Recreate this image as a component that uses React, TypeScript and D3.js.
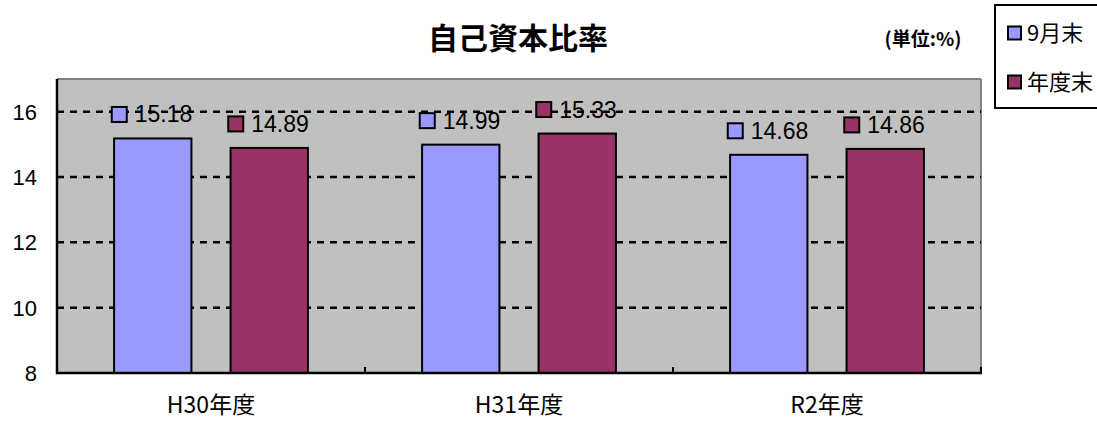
import React from "react";
import * as d3 from "d3";

const categories = ["H30年度", "H31年度", "R2年度"];
const seriesNames = ["9月末", "年度末"];
const septValues = [15.18, 14.99, 14.68];
const yearEndValues = [14.89, 15.33, 14.86];
const yTicks = [8, 10, 12, 14, 16];
const colors = ["#9999ff", "#993366"];

const W = 1097;
const H = 421;
const plot = { left: 57, right: 981, top: 79, bottom: 373 };
const FONT = "'Liberation Sans', Arial, 'Noto Sans CJK JP', sans-serif";
const CJK = "'Noto Sans CJK JP', 'Liberation Sans', sans-serif";

export default function App() {
  const x = d3.scaleBand<string>().domain(categories).range([plot.left, plot.right]).padding(0);
  const xs = d3
    .scaleBand<string>()
    .domain(seriesNames)
    .range([0, x.bandwidth()])
    .paddingInner(0.336)
    .paddingOuter(0.49);
  const y = d3.scaleLinear().domain([8, 17]).range([plot.bottom, plot.top]);
  const series = [septValues, yearEndValues];

  const fmt = d3.format(".2f");

  return (
    <svg width={W} height={H} style={{ position: "absolute", left: 0, top: 0 }}>
      <rect x={0} y={0} width={W} height={H} fill="#ffffff" />
      {/* title */}
      <text x={518} y={49} textAnchor="middle" fontFamily={CJK} fontWeight="bold" fontSize={30} fill="#000">
        自己資本比率
      </text>
      <text x={923} y={46} textAnchor="middle" fontFamily={CJK} fontWeight="bold" fontSize={19} fill="#000">
        (単位:%)
      </text>

      {/* plot background */}
      <rect
        x={plot.left}
        y={plot.top}
        width={plot.right - plot.left}
        height={plot.bottom - plot.top}
        fill="#c0c0c0"
      />
      <line x1={plot.left} x2={plot.right} y1={plot.top} y2={plot.top} stroke="#808080" strokeWidth={2} />
      <line x1={plot.right} x2={plot.right} y1={plot.top} y2={plot.bottom} stroke="#808080" strokeWidth={2} />

      {/* gridlines */}
      {yTicks
        .filter((t) => t > 8)
        .map((t) => (
          <line
            key={t}
            x1={plot.left}
            x2={plot.right}
            y1={y(t)}
            y2={y(t)}
            stroke="#000"
            strokeWidth={2.5}
            strokeDasharray="7,6"
          />
        ))}

      {/* bars */}
      {categories.map((c, i) =>
        seriesNames.map((s, j) => {
          const v = series[j][i];
          const bx = (x(c) as number) + (xs(s) as number);
          return (
            <rect
              key={c + s}
              x={bx}
              y={y(v)}
              width={xs.bandwidth()}
              height={plot.bottom - y(v)}
              fill={colors[j]}
              stroke="#000"
              strokeWidth={2}
            />
          );
        })
      )}

      {/* value labels */}
      {categories.map((c, i) =>
        seriesNames.map((s, j) => {
          const v = series[j][i];
          const cx = (x(c) as number) + (xs(s) as number) + xs.bandwidth() / 2;
          const cy = y(v) - 24;
          return (
            <g key={"l" + c + s}>
              <rect x={cx - 41} y={cy - 7.5} width={15} height={15} fill={colors[j]} stroke="#000" strokeWidth={2} />
              <text x={cx - 18} y={cy + 8} fontFamily={FONT} fontSize={23} fill="#000">
                {fmt(v)}
              </text>
            </g>
          );
        })
      )}

      {/* axes */}
      <line x1={plot.left} x2={plot.left} y1={plot.top} y2={plot.bottom + 1} stroke="#000" strokeWidth={2.5} />
      <line x1={plot.left - 1} x2={plot.right + 1} y1={plot.bottom} y2={plot.bottom} stroke="#000" strokeWidth={2.5} />
      {categories.map((c) => {
        const bx = (x(c) as number) + x.bandwidth();
        return (
          <line key={"t" + c} x1={bx} x2={bx} y1={plot.bottom} y2={plot.bottom - 6} stroke="#000" strokeWidth={2} />
        );
      })}

      {/* y tick labels */}
      {yTicks.map((t) => (
        <text key={"y" + t} x={37} y={y(t) + 8} textAnchor="end" fontFamily={FONT} fontSize={22} fill="#000">
          {t}
        </text>
      ))}

      {/* x labels */}
      {categories.map((c) => (
        <text
          key={"x" + c}
          x={(x(c) as number) + x.bandwidth() / 2}
          y={413}
          textAnchor="middle"
          fontFamily={CJK}
          fontSize={23}
          fill="#000"
        >
          {c}
        </text>
      ))}

      {/* legend */}
      <rect x={995} y={5} width={110} height={103} fill="#fff" stroke="#000" strokeWidth={2} />
      {seriesNames.map((s, j) => {
        const ly = [33, 82][j];
        return (
          <g key={"lg" + s}>
            <rect x={1008} y={ly - 6.5} width={13} height={13} fill={colors[j]} stroke="#000" strokeWidth={2} />
            <text x={1027} y={ly + 8} fontFamily={CJK} fontSize={22} fill="#000">
              {s}
            </text>
          </g>
        );
      })}
    </svg>
  );
}
